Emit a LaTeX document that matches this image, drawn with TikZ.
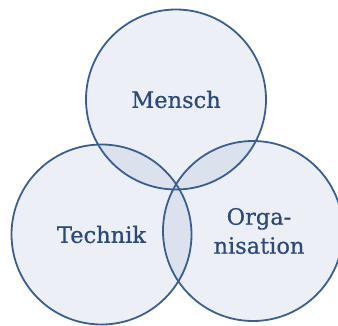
\documentclass[tikz,border=0pt]{standalone}
\usepackage{fontspec}
\setmainfont{DejaVu Serif}[FakeBold=0.6]
\usepackage{xcolor}
\definecolor{ringblue}{HTML}{3A5F8F}
\definecolor{fillblue}{HTML}{2F5597}
\definecolor{textblue}{HTML}{2B4A78}
\tikzset{
	bereich/.style={
			circle, draw=ringblue, line width=1.8pt,
			fill=fillblue, fill opacity=0.09, text opacity=1,
			minimum size=180pt, inner sep=0pt,
			text=textblue, font=\fontsize{22.5}{29}\selectfont, align=center
		}
}

\begin{document}
\begin{tikzpicture}[x=1pt,y=-1pt]
			\useasboundingbox (0,0) rectangle (338,325);

			% Die drei Bereiche
			\node[bereich] (mensch) at (176,99.5) {Mensch};
			\node[bereich] (technik) at (101.5,234.5) {Technik};
			\node[bereich] (orga) at (253,231) {\hspace*{12pt}Orga-\\\hspace*{12pt}nisation};
		\end{tikzpicture}
\end{document}
